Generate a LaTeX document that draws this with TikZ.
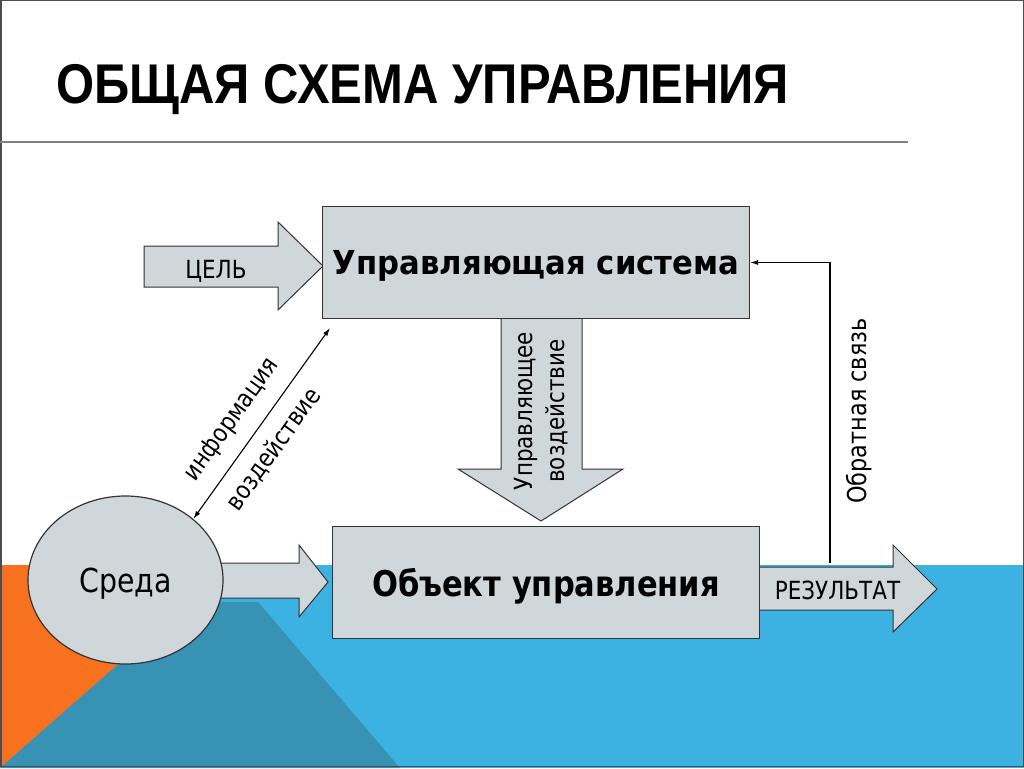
\documentclass[tikz,border=0pt]{standalone}
\usepackage{fontspec}
\setmainfont{DejaVu Sans}
\newfontfamily\titlefont[FakeStretch=0.875]{Liberation Sans}
\newfontfamily\tahoma[FakeStretch=0.86]{DejaVu Sans}
\newfontfamily\verdana[FakeStretch=0.93]{DejaVu Sans}
\usetikzlibrary{calc}
\usetikzlibrary{shapes.geometric}
\usetikzlibrary{arrows.meta}
\definecolor{boxgray}{RGB}{208,215,219}
\definecolor{skyband}{RGB}{59,178,225}
\definecolor{tealband}{RGB}{56,146,180}
\definecolor{orangeband}{RGB}{247,113,31}
\newcommand*{\lblsize}{\fontsize{25}{30}\selectfont}

\begin{document}
\begin{tikzpicture}[x=1pt, y=-1pt,
    blockbox/.style  = {draw=black!80, line width=1.2pt, fill=boxgray, inner sep=0pt,
                        minimum width=427pt, minimum height=112pt, text depth=0pt,
                        font=\verdana\bfseries\fontsize{33}{36}\selectfont},
    envshape/.style  = {ellipse, draw=black!80, line width=1.2pt, fill=boxgray, inner sep=0pt,
                        minimum width=195pt, minimum height=168pt, text depth=0pt,
                        font=\tahoma\fontsize{33}{36}\selectfont},
    blockarrow/.style= {draw=black!80, line width=1pt, fill=boxgray, line join=miter},
    lbl/.style       = {inner sep=2pt, font=\tahoma\lblsize},
    thinarrow/.style = {draw=black, line width=1.1pt, -{Latex[length=8pt,width=5pt]}}]
    % background
    \useasboundingbox (0,0) rectangle (1024,768);
    \fill [white] (0,0) rectangle (1024,768);
    \fill [skyband] (0,565) rectangle (1024,768);
    \fill [orangeband] (0,565) -- (231,565) -- (0,768) -- cycle;
    \fill [tealband] (189,602) -- (258,602) -- (400,768) -- (0,768) -- cycle;
    \draw [black!70, line width=1.5pt] (0.75,0.75) rectangle (1023.25,766.5);
    \node [anchor=base west, inner sep=0pt, font=\titlefont\bfseries\fontsize{56}{60}\selectfont] (title) at (56,103) {ОБЩАЯ СХЕМА УПРАВЛЕНИЯ};
    \draw [black!50, line width=2.5pt] (0,142) -- (908,142);
    % block arrows
    \draw [blockarrow] (144,246) -- (278,246) -- (278,222) -- (323,266) -- (278,310) -- (278,287) -- (144,287) -- cycle;
    \draw [blockarrow] (501,318) -- (582,318) -- (582,469) -- (623,469) -- (541,521) -- (458,469) -- (501,469) -- cycle;
    \draw [blockarrow] (200,563) -- (299,563) -- (299,545) -- (328,582) -- (299,617) -- (299,598) -- (200,598) -- cycle;
    \draw [blockarrow] (755,567) -- (893,567) -- (893,545) -- (937,589) -- (893,632) -- (893,610) -- (755,610) -- cycle;
    % boxes
    \node [blockbox] (ctrl) at (536,262.5) {Управляющая система};
    \node [blockbox, font=\tahoma\bfseries\fontsize{35.5}{38}\selectfont] (obj) at (546,582.5) {Объект управления};
    \node [envshape] (env) at (125.5,580) {Среда};
    % labels
    \node [lbl, anchor=base] (goal) at (216,278) {ЦЕЛЬ};
    \node [lbl, anchor=base] (result) at (837.5,599) {РЕЗУЛЬТАТ};
    \node [lbl, rotate=90, align=center, font=\tahoma\fontsize{25}{32}\selectfont] (action) at (541.5,411) {Управляющее\\воздействие};
    \node [lbl, rotate=90, font=\tahoma\fontsize{26}{30}\selectfont] (feedback) at (859,411) {Обратная связь};
    % connectors
    \coordinate (sysport) at (330,328);
    \coordinate (fbfoot) at (830,563);
    \draw [thinarrow, {Latex[length=8pt,width=5pt]}-{Latex[length=8pt,width=5pt]}] (env.42) --
        node [pos=0.44, sloped, above=12pt, lbl] (info) {информация}
        node [pos=0.44, sloped, below=11pt, lbl] (impact) {воздействие} (sysport);
    \draw [thinarrow] (fbfoot) |- (ctrl.east);
\end{tikzpicture}
\end{document}
